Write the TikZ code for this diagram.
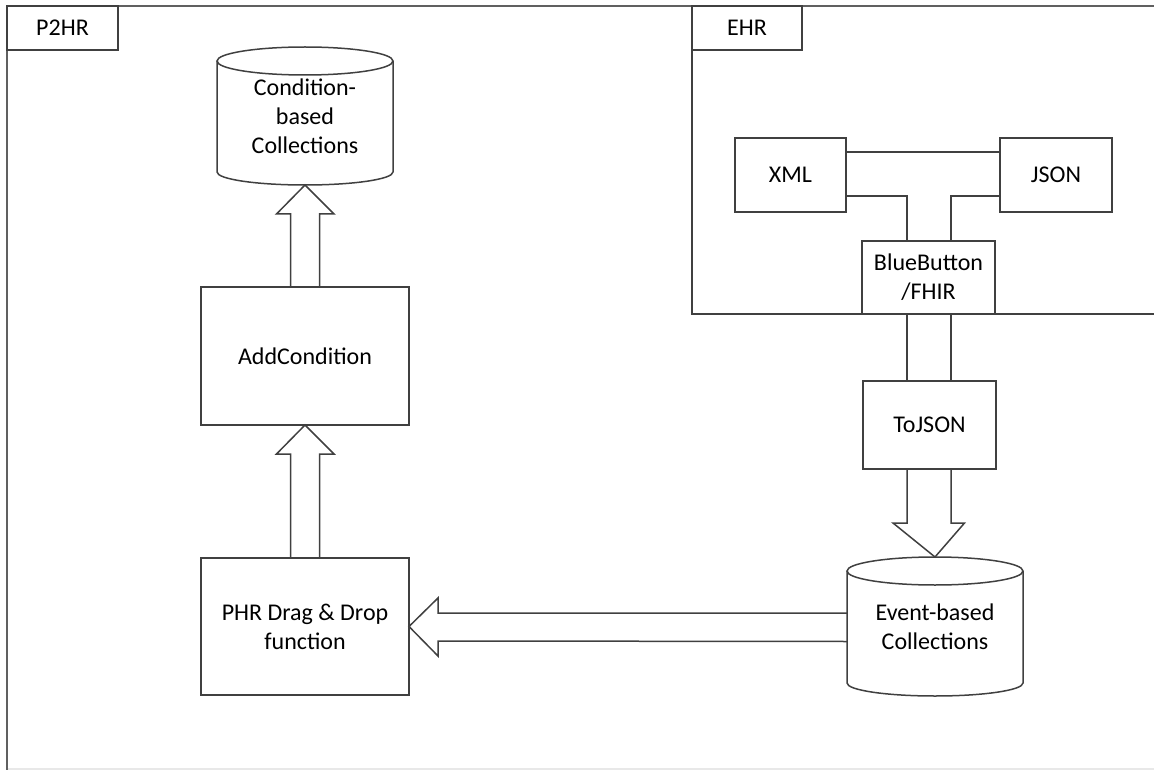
\documentclass[tikz,border=0pt]{standalone}
\usepackage{fontspec}
\setmainfont{Carlito}
\usetikzlibrary{calc}
\definecolor{edge}{RGB}{64,64,64}
\definecolor{frameline}{RGB}{96,96,96}
\definecolor{faint}{RGB}{232,232,232}
\tikzset{
  line/.style={draw=edge, line width=1.5pt, line join=miter},
  box/.style={line, rectangle, inner sep=0pt, outer sep=0pt, align=center,
    font=\fontsize{24}{29}\selectfont},
  store/.style={rectangle, inner sep=0pt, outer sep=0pt, align=center,
    font=\fontsize{24}{29}\selectfont},
}
\begin{document}
\begin{tikzpicture}[x=1pt, y=1pt]
\useasboundingbox (0,0) rectangle (1154,-770);

% system frames
\draw[draw=faint, line width=1.2pt] (7,-769) -- (1154,-769);
\draw[line, draw=frameline] (1154,-6) -- (7,-6) -- (7,-770);
\draw[line] (692,-6) -- (692,-314) -- (1154,-314);

% frame labels
\node[box, minimum width=111, minimum height=44] (p2hrlabel) at (62.5,-28) {P2HR};
\node[box, minimum width=110, minimum height=44] (ehrlabel) at (747,-28) {EHR};

% EHR components
\node[box, minimum width=111, minimum height=74] (xml) at (790.5,-175) {XML};
\node[box, minimum width=112, minimum height=74] (json) at (1056,-175) {JSON};
\node[box, fill=white, minimum width=133, minimum height=73] (bb) at (928.5,-277.5) {BlueButton\\/FHIR};
\node[box, minimum width=133, minimum height=88] (tojson) at (929.5,-425) {ToJSON};

% P2HR components
\node[box, minimum width=208, minimum height=138] (addc) at (305,-356) {AddCondition};
\node[box, minimum width=208, minimum height=137] (phr) at (305,-626.5) {PHR Drag \& Drop\\function};

% data stores (cylinders)
\node[store, minimum width=176, minimum height=138] (condcoll) at (305,-116) {Condition-\\based\\Collections};
\node[store, minimum width=176, minimum height=139] (eventcoll) at (935,-626.5) {Event-based\\Collections};

\foreach \s/\ry in {condcoll/13, eventcoll/13} {
  \draw[line] ($(\s.north west)+(0,-14)$) -- ($(\s.south west)+(0,\ry)$)
    arc[start angle=180, end angle=360, x radius=88pt, y radius=\ry pt]
    -- ($(\s.north east)+(0,-14)$);
  \draw[line] ($(\s.north)+(0,-14)$) ellipse [x radius=88pt, y radius=14pt];
}

% XML / JSON joined into BlueButton/FHIR
\draw[line] ($(xml.north east)+(0,-14)$) -- ($(json.north west)+(0,-14)$);
\draw[line] ($(xml.south east)+(0,16)$) -| ($(bb.north)+(-21.5,0)$);
\draw[line] ($(json.south west)+(0,16)$) -| ($(bb.north)+(22.5,0)$);

% BlueButton/FHIR to ToJSON channel
\draw[line] ($(bb.south)+(-21.5,0)$) -- ($(tojson.north)+(-22.5,0)$);
\draw[line] ($(bb.south)+(22.5,0)$) -- ($(tojson.north)+(21.5,0)$);

% ToJSON => Event-based Collections
\draw[line] ($(tojson.south)+(-22.5,0)$) -- ($(tojson.south)+(-22.5,-54)$)
  -- ++(-14,0) -- (eventcoll.north) -- ($(tojson.south)+(35,-54)$)
  -- ++(-13.5,0) -- ($(tojson.south)+(21.5,0)$);

% Event-based Collections => PHR Drag & Drop function
\draw[line] ($(eventcoll.west)+(0,13.5)$) -- ($(phr.east)+(29,13.5)$)
  -- ++(0,15) -- (phr.east) -- ($(phr.east)+(29,-29.5)$)
  -- ++(0,15) -- ($(eventcoll.west)+(0,-15)$);

% PHR Drag & Drop function => AddCondition
\draw[line] ($(phr.north)+(-14.5,0)$) -- ($(addc.south)+(-14.5,-29)$)
  -- ++(-14,0) -- (addc.south) -- ($(addc.south)+(29,-29)$)
  -- ++(-14.5,0) -- ($(phr.north)+(14.5,0)$);

% AddCondition => Condition-based Collections
\draw[line] ($(addc.north)+(-14.5,0)$) -- ($(condcoll.south)+(-14.5,-29)$)
  -- ++(-14,0) -- (condcoll.south) -- ($(condcoll.south)+(29,-29)$)
  -- ++(-14.5,0) -- ($(addc.north)+(14.5,0)$);
\end{tikzpicture}
\end{document}
